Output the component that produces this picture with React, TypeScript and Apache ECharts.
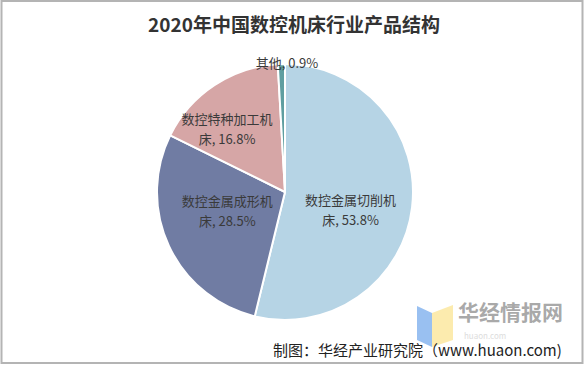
import React, { useEffect, useRef } from "react";
import * as echarts from "echarts";

const categories = ["数控金属切削机床", "数控金属成形机床", "数控特种加工机床", "其他"];
const values = [53.8, 28.5, 16.8, 0.9];
const colors = ["#b6d4e5", "#707ca3", "#d6a6a6", "#5f9ea0"];

export default function App() {
  const ref = useRef<HTMLDivElement>(null);
  useEffect(() => {
    document.body.style.margin = "0";
    const chart = echarts.init(ref.current!, null, { renderer: "svg" });
    const font = "'Noto Sans CJK SC', 'Microsoft YaHei', sans-serif";
    const shifts: Record<number, any> = {
      0: { dx: -1, dy: 10 },
      1: { dx: 3, dy: -10 },
      2: { dx: -21, dy: -8 },
    };
    chart.setOption({
      animation: false,
      backgroundColor: "#ffffff",
      title: {
        text: "2020年中国数控机床行业产品结构",
        left: "center",
        top: 9,
        textStyle: { fontSize: 19, fontWeight: "bold", color: "#333333", fontFamily: font },
      },
      graphic: [
        {
          type: "rect",
          shape: { x: 1.5, y: 1, width: 581, height: 362 },
          style: { fill: "none", stroke: "#b4b4b4", lineWidth: 2 },
        },
        {
          type: "polygon",
          shape: { points: [[417, 306], [432, 313], [432, 347], [417, 340]] },
          style: { fill: "#7fb0ee", opacity: 0.8 },
        },
        {
          type: "polygon",
          shape: { points: [[432, 313], [453, 305], [453, 340], [432, 347]] },
          style: { fill: "#fbe7a0", opacity: 0.85 },
        },
        {
          type: "text",
          x: 458,
          y: 300,
          style: { text: "华经情报网", fontSize: 21, fontWeight: "bold", fill: "#9a9a9a", fontFamily: font, opacity: 0.85 },
        },
        {
          type: "text",
          x: 464,
          y: 331,
          style: { text: "huaon.com", fontSize: 8, fill: "#dddddd", fontFamily: font, letterSpacing: 4 },
        },
        {
          type: "text",
          x: 273,
          y: 342,
          style: { text: "制图：华经产业研究院（www.huaon.com)", fontSize: 15, fill: "#222222", fontFamily: font },
        },
      ],
      series: [
        {
          type: "pie",
          center: [285, 192],
          radius: 128,
          startAngle: 90,
          clockwise: true,
          itemStyle: { borderColor: "#ffffff", borderWidth: 2 },
          label: {
            position: "inside",
            fontSize: 13,
            lineHeight: 20,
            color: "#3a3a3a",
            fontFamily: font,
            formatter: (p: any) =>
              p.name.length > 7 ? p.name.slice(0, 7) + "\n" + p.name.slice(7) + ", " + p.value + "%" : p.name + ", " + p.value + "%",
          },
          labelLine: { show: false },
          labelLayout: (params: any) => {
            if (params.dataIndex === 3) {
              return { x: 287, y: 62, align: "center", verticalAlign: "middle" };
            }
            return shifts[params.dataIndex] || {};
          },
          data: categories.map((c, i) => {
            const d: any = { name: c, value: values[i], itemStyle: { color: colors[i] } };
            if (c === "其他") {
              d.label = { position: "outside", distance: 2 };
            }
            return d;
          }),
        },
      ],
    });
    return () => chart.dispose();
  }, []);
  return <div ref={ref} style={{ width: 588, height: 370 }} />;
}
